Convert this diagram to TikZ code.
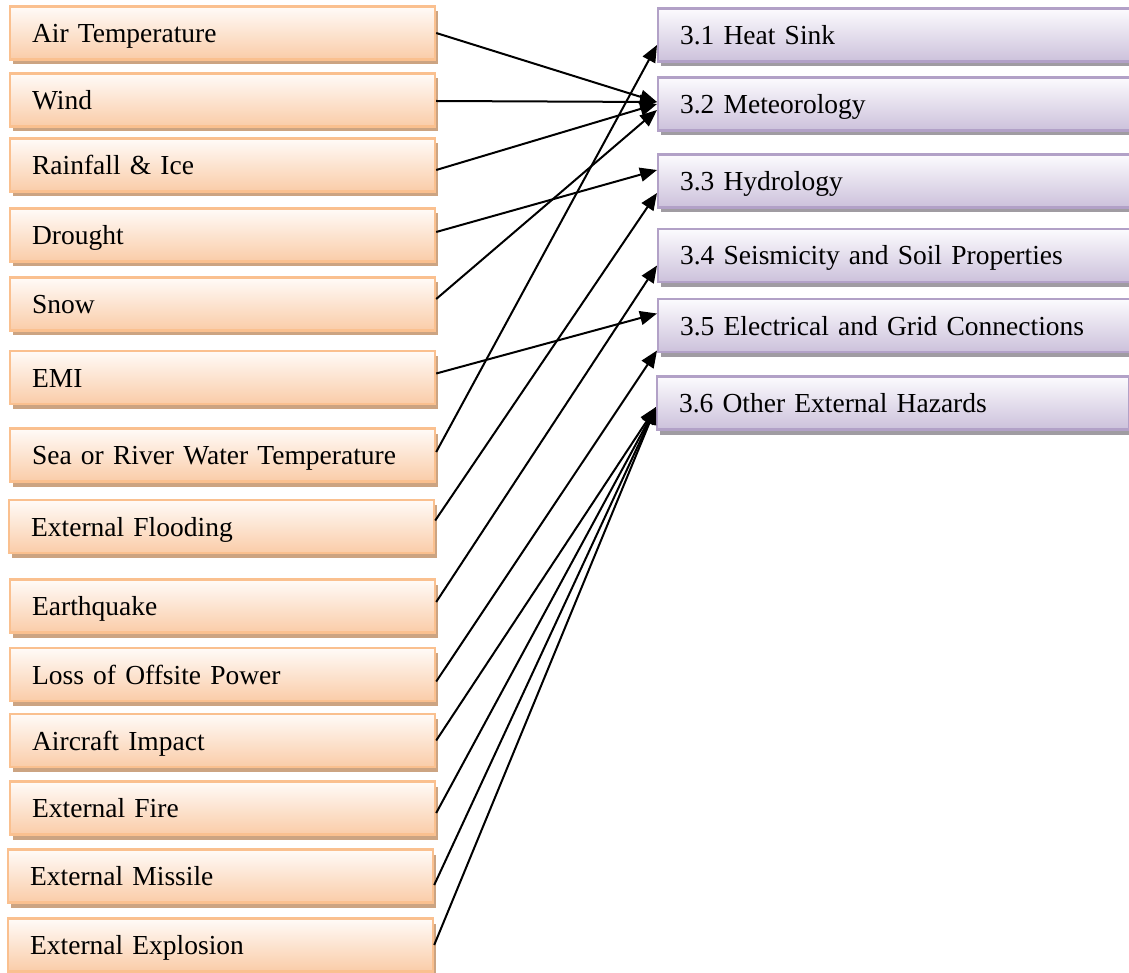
\documentclass[tikz,border=0pt]{standalone}
\usepackage{fontspec}
\setmainfont{Liberation Serif}
\usetikzlibrary{arrows.meta,shadows,calc}
\definecolor{lfill}{RGB}{250,204,168}
\definecolor{ltop}{RGB}{255,251,248}
\definecolor{lborder}{RGB}{250,192,143}
\definecolor{lshadow}{RGB}{204,164,130}
\definecolor{rfill}{RGB}{204,193,219}
\definecolor{rtop}{RGB}{252,251,254}
\definecolor{rborder}{RGB}{178,161,199}
\definecolor{rshadow}{RGB}{160,156,162}
\tikzset{
  boxbase/.style={rectangle, line width=2.2pt, anchor=west, align=left,
    font=\fontsize{27.5}{30}\selectfont, inner xsep=22pt, inner ysep=0pt,
    text height=20.5pt, text depth=1.5pt, minimum height=53pt},
  lbox/.style={boxbase, draw=lborder, top color=ltop, bottom color=lfill,
    general shadow={fill=lshadow, shadow xshift=3pt, shadow yshift=-5pt},
    text width=381pt},
  rbox/.style={boxbase, draw=rborder, top color=rtop, bottom color=rfill,
    general shadow={fill=rshadow, shadow xshift=3pt, shadow yshift=-5pt},
    text width=#1},
  arr/.style={line width=2pt, -{Triangle[length=17pt,width=14pt]}},
}
\begin{document}
\begin{tikzpicture}[x=1pt,y=-1pt]
\useasboundingbox (0,0) rectangle (1129,973);
\clip (0,0) rectangle (1129,973);
% left boxes
\node[lbox] (a1) at (9,33) {Air Temperature};
\node[lbox] (a2) at (9,100) {Wind};
\node[lbox] (a3) at (9,165) {Rainfall \& Ice};
\node[lbox] (a4) at (9,235) {Drought};
\node[lbox] (a5) at (9,304) {Snow};
\node[lbox] (a6) at (9,377.5) {EMI};
\node[lbox] (a7) at (9,455) {Sea or River Water Temperature};
\node[lbox] (a8) at (8,526.5) {External Flooding};
\node[lbox] (a9) at (9,606) {Earthquake};
\node[lbox] (a10) at (9,674.5) {Loss of Offsite Power};
\node[lbox] (a11) at (9,740.5) {Aircraft Impact};
\node[lbox] (a12) at (9,808) {External Fire};
\node[lbox] (a13) at (7,876) {External Missile};
\node[lbox] (a14) at (7,945) {External Explosion};
% right boxes
\node[rbox=456pt] (r1) at (657,35) {3.1 Heat Sink};
\node[rbox=456pt] (r2) at (657,104) {3.2 Meteorology};
\node[rbox=456pt] (r3) at (657,181) {3.3 Hydrology};
\node[rbox=456pt] (r4) at (657,255.5) {3.4 Seismicity and Soil Properties};
\node[rbox=456pt] (r5) at (657,325.5) {3.5 Electrical and Grid Connections};
\node[rbox=428pt] (r6) at (656,403) {3.6 Other External Hazards};
% connectors
\draw[arr] (a1.east) -- ($(r2.west)+(0,-2)$);
\draw[arr] ($(a2.east)+(0,1)$) -- ($(r2.west)+(0,-2)$);
\draw[arr] ($(a3.east)+(0,5)$) -- (r2.west);
\draw[arr] ($(a4.east)+(0,-3)$) -- ($(r3.west)+(0,-11)$);
\draw[arr] ($(a5.east)+(0,-5)$) -- ($(r2.west)+(0,6)$);
\draw[arr] ($(a6.east)+(0,-4)$) -- ($(r5.west)+(0,-12)$);
\draw[arr] ($(a7.east)+(0,-3)$) -- ($(r1.west)+(0,10)$);
\draw[arr] ($(a8.east)+(0,-6)$) -- ($(r3.west)+(0,12)$);
\draw[arr] ($(a9.east)+(0,-4)$) -- ($(r4.west)+(0,10)$);
\draw[arr] ($(a10.east)+(0,7)$) -- ($(r5.west)+(0,25)$);
\draw[arr] (a11.east) -- ($(r6.west)+(0,4)$);
\draw[arr] ($(a12.east)+(0,5)$) -- ($(r6.west)+(0,4)$);
\draw[arr] ($(a13.east)+(0,9)$) -- ($(r6.west)+(0,4)$);
\draw[arr] (a14.east) -- ($(r6.west)+(0,4)$);
\end{tikzpicture}
\end{document}
